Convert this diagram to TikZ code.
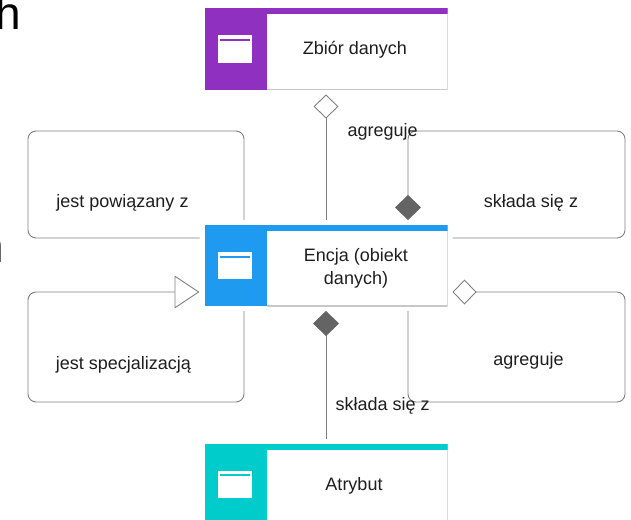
\documentclass[tikz,border=0pt]{standalone}
\usepackage{fontspec}
\setmainfont{Liberation Sans}
\usepackage{tikz}
\usetikzlibrary{arrows.meta}

\definecolor{zbcolor}{RGB}{144,48,192}
\definecolor{enccolor}{RGB}{30,155,240}
\definecolor{atrcolor}{RGB}{0,204,204}
\definecolor{linkgray}{RGB}{128,128,128}
\definecolor{tipgray}{RGB}{100,100,100}
\definecolor{bordergray}{RGB}{200,200,200}
\definecolor{textgray}{RGB}{30,30,30}

\begin{document}
\begin{tikzpicture}[
		scale=1,
		every node/.style={text=textgray, font=\fontsize{18}{23}\selectfont},
		box/.style={rectangle, fill=white, minimum width=243pt, minimum height=81pt, inner sep=0pt, outer sep=5pt,
			path picture={
				\draw[bordergray, line width=1.6pt] ([xshift=62pt]path picture bounding box.south west) -- (path picture bounding box.south east) -- (path picture bounding box.north east);
				\fill[#1] (path picture bounding box.north west) rectangle ([xshift=62pt]path picture bounding box.south west);
				\fill[#1] (path picture bounding box.north west) rectangle ([yshift=-6pt]path picture bounding box.north east);
				\fill[white] ([xshift=13pt, yshift=13.5pt]path picture bounding box.west) rectangle ([xshift=47pt, yshift=-13.5pt]path picture bounding box.west);
				\fill[#1] ([xshift=15pt, yshift=10pt]path picture bounding box.west) rectangle ([xshift=45pt, yshift=8pt]path picture bounding box.west);
			}},
		link/.style={draw=linkgray, line width=0.9pt, rounded corners=8pt},
		agg/.style={-{Diamond[open, length=24pt, width=25pt]}},
		comp/.style={-{Diamond[length=25pt, width=26pt, color=tipgray]}},
		spec/.style={-{Triangle[open, length=25pt, width=33pt]}}
	]
  \useasboundingbox (0pt, 0pt) rectangle (631pt, -519pt);
  \node (h_top) [anchor=base west, inner sep=0pt, text=black, font=\fontsize{46}{46}\selectfont] at (-5pt, -30pt) {h};
  \node (h_mid) [anchor=base west, inner sep=0pt, text=black, font=\fontsize{46}{46}\selectfont] at (-21.5pt, -262pt) {n};
  \node (zb) [box=zbcolor] at (326pt, -49pt) {};
  \node (enc) [box=enccolor] at (326pt, -265.5pt) {};
  \node (atr) [box=atrcolor] at (326pt, -484pt) {};
  \node (zb_label) [anchor=base] at ([xshift=29pt, yshift=-6pt]zb.center) {Zbiór danych};
  \node (enc_label) [align=center] at ([xshift=30pt, yshift=-3pt]enc.center) {Encja (obiekt\\danych)};
  \node (atr_label) [anchor=base] at ([xshift=28pt, yshift=-6pt]atr.center) {Atrybut};
  \draw [link, agg] (enc.north) -- (zb.south);
  \draw [link, comp] (atr.north) -- (enc.south);
  \draw [link] ([yshift=27.5pt]enc.west) -| (28pt, -131pt) -| ([xshift=-82pt]enc.north);
  \draw [link, comp] ([yshift=27.5pt]enc.east) -| (625pt, -131pt) -| ([xshift=82pt]enc.north);
  \draw [link, spec] ([xshift=-82pt]enc.south) |- (28pt, -402pt) |- ([yshift=-26.5pt]enc.west);
  \draw [link, agg] ([xshift=82pt]enc.south) |- (625pt, -402pt) |- ([yshift=-26.5pt]enc.east);
  \node (agr_zb_label) [anchor=base west] at (344pt, -136.5pt) {agreguje};
  \node (skl_atr_label) [anchor=base west] at (332pt, -410pt) {składa się z};
  \node (pow_label) [anchor=base] at (122.5pt, -207pt) {jest powiązany z};
  \node (skl_label) [anchor=base] at (531pt, -207pt) {składa się z};
  \node (spec_label) [anchor=base] at (123.5pt, -369pt) {jest specjalizacją};
  \node (agr_label) [anchor=base] at (528.5pt, -365pt) {agreguje};
\end{tikzpicture}
\end{document}
